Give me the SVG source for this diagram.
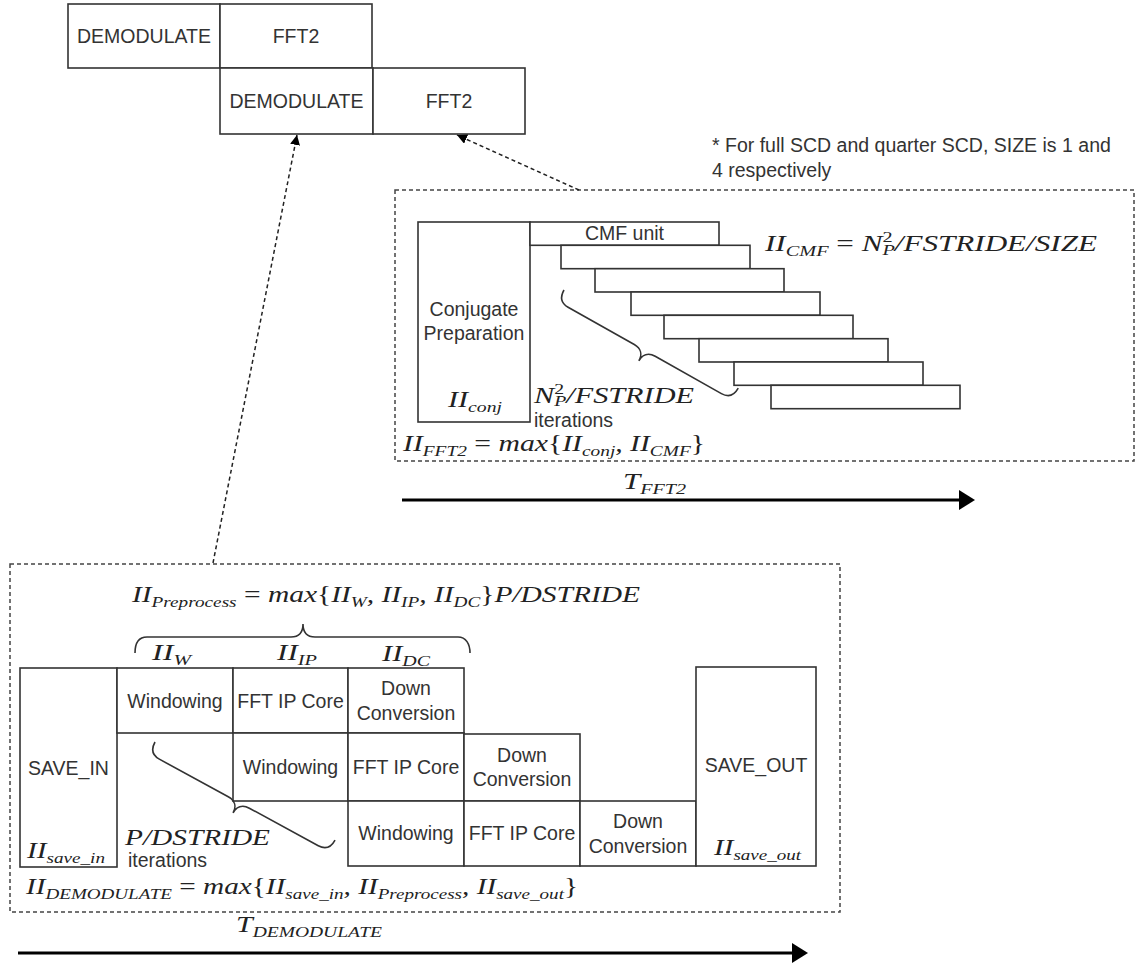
<svg xmlns="http://www.w3.org/2000/svg" width="1136" height="965" viewBox="0 0 1136 965">
<defs>
<style>
.box{fill:#fff;stroke:#333;stroke-width:1.6}
.t{font-family:"Liberation Sans",Arial,sans-serif;font-size:19.5px;fill:#333;text-anchor:middle}
.tl{font-family:"Liberation Sans",Arial,sans-serif;font-size:19.5px;fill:#333}
.m{font-family:"Liberation Serif","Times New Roman",serif;font-style:italic;font-size:23px;fill:#222}
.s{font-size:15px}
.u{font-style:normal}
.dash{fill:none;stroke:#444;stroke-width:1.5;stroke-dasharray:4 3}
.brace{fill:none;stroke:#333;stroke-width:1.6}
.time{stroke:#000;stroke-width:3;fill:none;marker-end:url(#big)}
.conn{fill:none;stroke:#222;stroke-width:1.5;stroke-dasharray:4 3;marker-end:url(#ah)}
</style>
<marker id="ah" viewBox="0 0 10 10" refX="10" refY="5" markerWidth="10" markerHeight="10" orient="auto" markerUnits="userSpaceOnUse">
<path d="M0,0 L10,5 L0,10 z" fill="#000"/>
</marker>
<marker id="big" viewBox="0 0 16 20" refX="7" refY="10" markerWidth="16" markerHeight="20" orient="auto" markerUnits="userSpaceOnUse">
<path d="M0,0 L16,10 L0,20 z" fill="#000"/>
</marker>
</defs>
<rect width="1136" height="965" fill="#fff"/>

<!-- top schedule -->
<g id="demod1"><rect class="box" x="68" y="4" width="152" height="64"/><text class="t" x="144" y="43">DEMODULATE</text></g>
<g id="fft2_1"><rect class="box" x="220" y="4" width="152" height="64"/><text class="t" x="296" y="43">FFT2</text></g>
<g id="demod2"><rect class="box" x="220" y="68" width="153" height="66"/><text class="t" x="296.5" y="108">DEMODULATE</text></g>
<g id="fft2_2"><rect class="box" x="373" y="68" width="152" height="66"/><text class="t" x="449" y="108">FFT2</text></g>

<!-- FFT2 detail -->
<g id="fft2_detail">
<rect class="dash" x="395" y="190" width="739" height="271"/>
<text class="tl" x="712" y="152">* For full SCD and quarter SCD, SIZE is 1 and</text>
<text class="tl" x="712" y="177">4 respectively</text>
</g>
<g id="conj"><rect class="box" x="418" y="222" width="112" height="200"/>
<text class="t" x="474" y="316">Conjugate</text><text class="t" x="474" y="340">Preparation</text>
<text class="m" x="448" y="407" textLength="54" lengthAdjust="spacingAndGlyphs">II<tspan class="s" dy="5">conj</tspan></text>
</g>
<g id="cmf">
<rect class="box" x="530" y="222" width="189" height="23.3"/>
<text class="t" x="624.5" y="240">CMF unit</text>
<rect class="box" x="561" y="245.3" width="189" height="23.4"/>
<rect class="box" x="595" y="268.7" width="189" height="23.3"/>
<rect class="box" x="631" y="292" width="189" height="23.3"/>
<rect class="box" x="664" y="315.3" width="189" height="23.4"/>
<rect class="box" x="699" y="338.7" width="189" height="23.3"/>
<rect class="box" x="734" y="362" width="189" height="23.3"/>
<rect class="box" x="771" y="385.3" width="189" height="23.4"/>
</g>
<g id="cmf_brace">
<path class="brace" transform="translate(564,290) rotate(29.4)" d="M0,0 C0,8 4,13 12,13 L88,13 C96,13 100,18 100,25 C100,18 104,13 112,13 L188,13 C196,13 200,8 200,0"/>
<text class="m" x="534" y="403" textLength="160" lengthAdjust="spacingAndGlyphs">N<tspan class="s u" dy="-9">2</tspan><tspan class="s" dx="-7.5" dy="12">P</tspan><tspan dy="-3">/FSTRIDE</tspan></text>
<text class="tl" x="534" y="427">iterations</text>
</g>
<g id="fft2_formulas">
<text class="m" x="765" y="251" textLength="332" lengthAdjust="spacingAndGlyphs">II<tspan class="s" dy="5">CMF</tspan><tspan class="u" dy="-5"> = </tspan>N<tspan class="s u" dy="-9">2</tspan><tspan class="s" dx="-7.5" dy="13">P</tspan><tspan dy="-4">/FSTRIDE/SIZE</tspan></text>
<text class="m" x="403" y="451" textLength="302" lengthAdjust="spacingAndGlyphs">II<tspan class="s" dy="5">FFT2</tspan><tspan class="u" dy="-5"> = </tspan>max<tspan class="u">{</tspan>II<tspan class="s" dy="5">conj</tspan><tspan dy="-5">, II</tspan><tspan class="s" dy="5">CMF</tspan><tspan class="u" dy="-5">}</tspan></text>
</g>
<g id="t_fft2">
<text class="m" x="623" y="489" textLength="63" lengthAdjust="spacingAndGlyphs">T<tspan class="s" dy="5">FFT2</tspan></text>
<line class="time" x1="402" y1="500" x2="966" y2="500"/>
</g>

<!-- DEMODULATE detail -->
<g id="demod_detail">
<rect class="dash" x="10" y="564" width="830" height="348"/>
<text class="m" x="132" y="602" textLength="508" lengthAdjust="spacingAndGlyphs">II<tspan class="s" dy="5">Preprocess</tspan><tspan class="u" dy="-5"> = </tspan>max<tspan class="u">{</tspan>II<tspan class="s" dy="5">W</tspan><tspan dy="-5">, II</tspan><tspan class="s" dy="5">IP</tspan><tspan dy="-5">, II</tspan><tspan class="s" dy="5">DC</tspan><tspan class="u" dy="-5">}</tspan>P/DSTRIDE</text>
<path class="brace" d="M135,653 C135,644 138,637 147,637 L291,637 C299,637 303,632 303,624 C303,632 307,637 315,637 L458,637 C466,637 470,644 470,653"/>
<text class="m" x="152" y="660" textLength="39" lengthAdjust="spacingAndGlyphs">II<tspan class="s" dy="5">W</tspan></text>
<text class="m" x="277" y="660" textLength="40" lengthAdjust="spacingAndGlyphs">II<tspan class="s" dy="5">IP</tspan></text>
<text class="m" x="382" y="661" textLength="48" lengthAdjust="spacingAndGlyphs">II<tspan class="s" dy="5">DC</tspan></text>
</g>
<g id="save_in"><rect class="box" x="20" y="668" width="97" height="199"/>
<text class="t" x="68.5" y="775">SAVE_IN</text>
<text class="m" x="27" y="858" textLength="78" lengthAdjust="spacingAndGlyphs">II<tspan class="s" dy="5">save_in</tspan></text>
</g>
<g id="row1">
<rect class="box" x="117" y="668" width="116" height="65"/><text class="t" x="175" y="707.5">Windowing</text>
<rect class="box" x="233" y="668" width="115" height="65"/><text class="t" x="290.5" y="707.5">FFT IP Core</text>
<rect class="box" x="348" y="668" width="116" height="65"/><text class="t" x="406" y="695">Down</text><text class="t" x="406" y="720">Conversion</text>
</g>
<g id="row2">
<rect class="box" x="233" y="733" width="115" height="68"/><text class="t" x="290.5" y="774">Windowing</text>
<rect class="box" x="348" y="733" width="116" height="68"/><text class="t" x="406" y="774">FFT IP Core</text>
<rect class="box" x="464" y="734" width="116" height="67"/><text class="t" x="522" y="762">Down</text><text class="t" x="522" y="786">Conversion</text>
</g>
<g id="row3">
<rect class="box" x="348" y="801" width="116" height="65"/><text class="t" x="406" y="840">Windowing</text>
<rect class="box" x="464" y="801" width="116" height="65"/><text class="t" x="522" y="840">FFT IP Core</text>
<rect class="box" x="580" y="801" width="116" height="65"/><text class="t" x="638" y="828">Down</text><text class="t" x="638" y="853">Conversion</text>
</g>
<g id="save_out"><rect class="box" x="696" y="667" width="120" height="199"/>
<text class="t" x="756" y="772">SAVE_OUT</text>
<text class="m" x="714" y="855" textLength="87" lengthAdjust="spacingAndGlyphs">II<tspan class="s" dy="5">save_out</tspan></text>
</g>
<g id="demod_brace">
<path class="brace" transform="translate(155,742) rotate(28.57)" d="M0,0 C0,8 4,13 12,13 L90.5,13 C98.5,13 102.5,18 102.5,25 C102.5,18 106.5,13 114.5,13 L193,13 C201,13 205,8 205,0"/>
<text class="m" x="125" y="845" textLength="145" lengthAdjust="spacingAndGlyphs">P/DSTRIDE</text>
<text class="tl" x="128" y="867">iterations</text>
</g>
<g id="demod_formula">
<text class="m" x="26" y="894" textLength="552" lengthAdjust="spacingAndGlyphs">II<tspan class="s" dy="5">DEMODULATE</tspan><tspan class="u" dy="-5"> = </tspan>max<tspan class="u">{</tspan>II<tspan class="s" dy="5">save_in</tspan><tspan dy="-5">, II</tspan><tspan class="s" dy="5">Preprocess</tspan><tspan dy="-5">, II</tspan><tspan class="s" dy="5">save_out</tspan><tspan class="u" dy="-5">}</tspan></text>
</g>
<g id="t_demod">
<text class="m" x="236" y="932" textLength="146" lengthAdjust="spacingAndGlyphs">T<tspan class="s" dy="5">DEMODULATE</tspan></text>
<line class="time" x1="18" y1="953" x2="799" y2="953"/>
</g>

<!-- connectors -->
<g id="connectors">
<line class="conn" x1="213" y1="563" x2="297" y2="135"/>
<line class="conn" x1="579" y1="190" x2="457" y2="135"/>
</g>
</svg>
